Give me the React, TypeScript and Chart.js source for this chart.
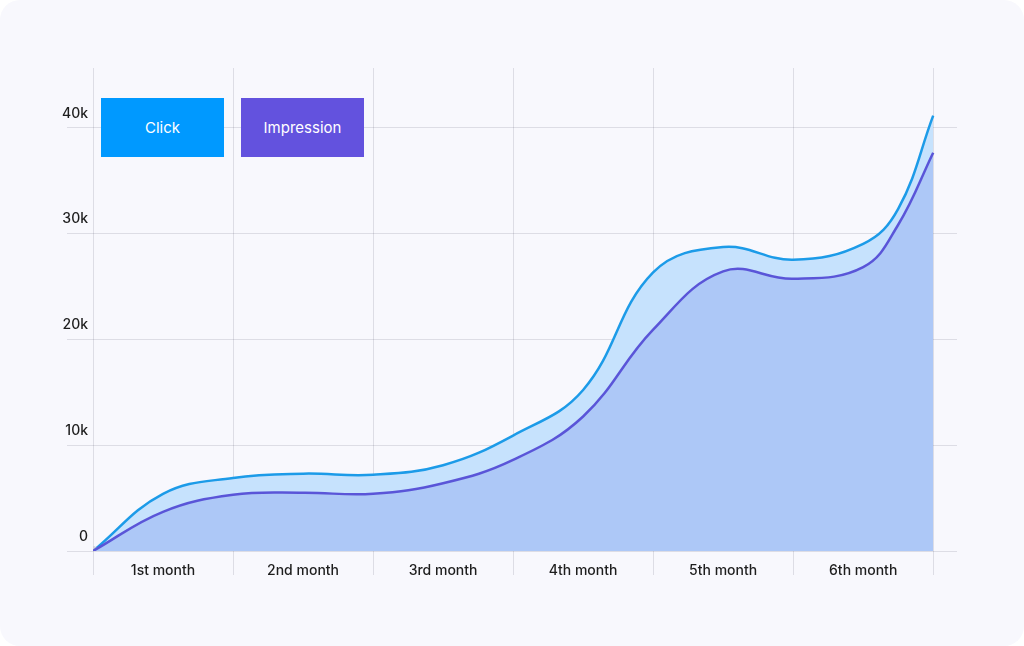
import React, { useEffect, useRef } from "react";
import { Chart, registerables } from "chart.js";

Chart.register(...registerables);

// x positions in months (0 = start, 6 = end of 6th month)
const positions = [0, 0.5, 1, 1.5, 2, 2.5, 3, 3.5, 4, 4.5, 5, 5.5, 5.75, 6];
const clickValues = [0, 5400, 6900, 7300, 7200, 8100, 10900, 15200, 26300, 28700, 27500, 29000, 32300, 41100];
const impressionValues = [0, 3700, 5300, 5500, 5400, 6400, 8600, 12700, 20900, 26400, 25700, 26800, 30800, 37600];
const monthLabels = ["1st month", "2nd month", "3rd month", "4th month", "5th month", "6th month"];
const yTicks = [0, 10000, 20000, 30000, 40000];
const xGridTicks = [0, 0.5, 1, 1.5, 2, 2.5, 3, 3.5, 4, 4.5, 5, 5.5, 6];
const seriesNames = ["Click", "Impression"];

const FONT = "Inter, 'Noto Sans', sans-serif";

export default function App() {
  const canvasRef = useRef<HTMLCanvasElement | null>(null);

  useEffect(() => {
    if (!canvasRef.current) return;
    const chart = new Chart(canvasRef.current, {
      type: "line",
      data: {
        datasets: [
          {
            label: seriesNames[0],
            data: positions.map((x, i) => ({ x, y: clickValues[i] })),
            borderColor: "#1c9be8",
            borderWidth: 2.5,
            backgroundColor: "#c6e2fd",
            fill: "+1",
            tension: 0.4,
            order: 2,
            pointRadius: (ctx: any) => (ctx.dataIndex === 0 ? 5 : 0),
            pointBackgroundColor: "rgba(200,200,210,0.7)",
            pointBorderWidth: 0,
          },
          {
            label: seriesNames[1],
            data: positions.map((x, i) => ({ x, y: impressionValues[i] })),
            borderColor: "#5a55d8",
            borderWidth: 2.5,
            backgroundColor: "#adc8f7",
            fill: "origin",
            tension: 0.4,
            order: 1,
            pointRadius: 0,
          },
        ],
      },
      options: {
        animation: false,
        responsive: false,
        maintainAspectRatio: false,
        layout: { padding: { left: 0, right: 67, top: 68, bottom: 0 } },
        plugins: {
          legend: { display: false },
          tooltip: { enabled: false },
        },
        scales: {
          x: {
            type: "linear",
            min: 0,
            max: 6.17,
            afterBuildTicks: (scale: any) => {
              scale.ticks = xGridTicks.map((v) => ({ value: v }));
            },
            afterFit: (scale: any) => {
              scale.height = 95;
            },
            border: { display: false },
            grid: {
              color: (ctx: any) =>
                ctx.tick && Math.abs(ctx.tick.value % 1) < 1e-6 ? "rgba(30,30,60,0.12)" : "rgba(0,0,0,0)",
              tickLength: 24,
              lineWidth: 1,
            },
            ticks: {
              autoSkip: false,
              maxRotation: 0,
              padding: -13,
              color: "#1e1e1e",
              font: { family: FONT, size: 14, weight: "500" },
              callback: (v: any) => {
                const n = Number(v);
                if (Math.abs(n % 1 - 0.5) < 1e-6) return monthLabels[Math.floor(n)];
                return "";
              },
            },
          },
          y: {
            min: 0,
            max: 45600,
            afterBuildTicks: (scale: any) => {
              scale.ticks = yTicks.map((v) => ({ value: v }));
            },
            afterFit: (scale: any) => {
              scale.width = 93;
            },
            border: { display: false },
            grid: {
              color: "rgba(30,30,60,0.12)",
              tickLength: 26,
              lineWidth: 1,
            },
            ticks: {
              padding: -21,
              labelOffset: -14,
              color: "#1e1e1e",
              font: { family: FONT, size: 14, weight: "500" },
              callback: (v: any) => (Number(v) === 0 ? "0" : Number(v) / 1000 + "k"),
            },
          },
        },
      },
    });
    return () => chart.destroy();
  }, []);

  const boxStyle = (left: number, bg: string): React.CSSProperties => ({
    position: "absolute",
    left,
    top: 98,
    width: 123,
    height: 59,
    background: bg,
    color: "#fff",
    display: "flex",
    alignItems: "center",
    justifyContent: "center",
    fontFamily: FONT,
    fontSize: 15,
    fontWeight: 400,
  });

  return (
    <div style={{ position: "fixed", left: 0, top: 0, width: 1024, height: 646, background: "#fff" }}>
      <div
        style={{
          position: "absolute",
          left: 0,
          top: 0,
          width: 1024,
          height: 646,
          background: "#f8f8fd",
          borderRadius: 20,
          overflow: "hidden",
        }}
      >
        <canvas ref={canvasRef} width={1024} height={646} style={{ position: "absolute", left: 0, top: 0 }} />
        <div style={boxStyle(101, "#0099ff")}>{seriesNames[0]}</div>
        <div style={boxStyle(241, "#6352de")}>{seriesNames[1]}</div>
      </div>
    </div>
  );
}
